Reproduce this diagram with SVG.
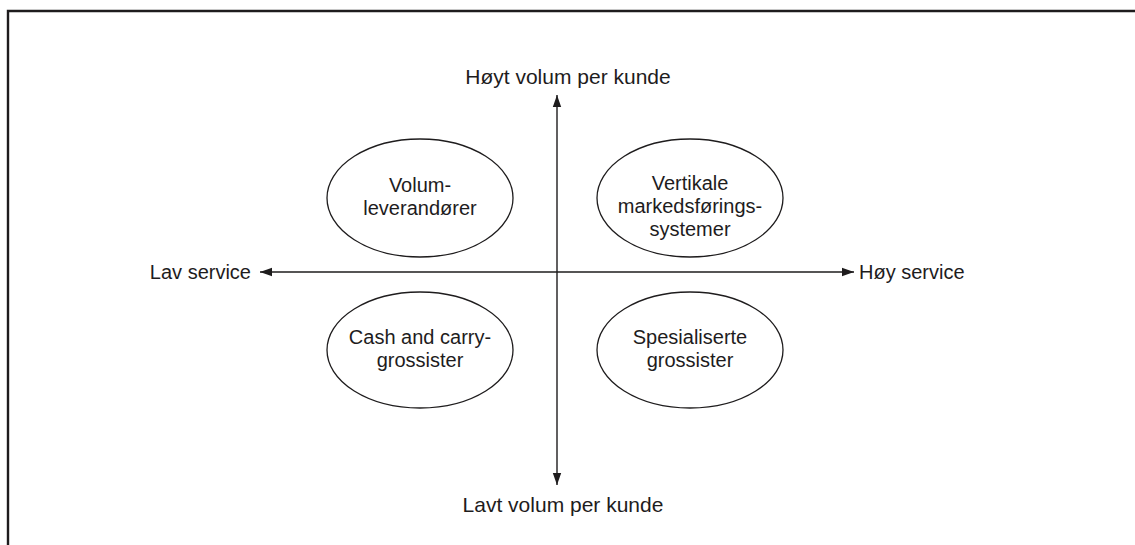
<svg xmlns="http://www.w3.org/2000/svg" width="1135" height="545" viewBox="0 0 1135 545">
  <defs>
    <style>
      .lbl { font-family: "Liberation Sans", Arial, sans-serif; font-size: 20px; fill: #1e1c1d; }
      .wide { font-size: 21px; }
      .node ellipse { fill: none; stroke: #1e1c1d; stroke-width: 1.3; }
      .axis { stroke: #1e1c1d; stroke-width: 1.4; fill: none; }
    </style>
    <marker id="arrow" viewBox="0 0 12 10" refX="12" refY="5" markerWidth="12" markerHeight="10" markerUnits="userSpaceOnUse" orient="auto">
      <path d="M0,0.8 L12,5 L0,9.2 Z" fill="#1e1c1d"/>
    </marker>
  </defs>
  <rect width="1135" height="545" fill="#ffffff"/>

  <!-- outer frame (runs past the right and bottom edges) -->
  <path d="M8,560 L8,11 L1150,11" fill="none" stroke="#1e1c1d" stroke-width="2.4"/>

  <!-- axes -->
  <g id="connectors">
    <line class="axis" x1="557" y1="272" x2="557" y2="95" marker-end="url(#arrow)"/>
    <line class="axis" x1="557" y1="272" x2="557" y2="485" marker-end="url(#arrow)"/>
    <line class="axis" x1="557" y1="272" x2="260" y2="272" marker-end="url(#arrow)"/>
    <line class="axis" x1="557" y1="272" x2="854" y2="272" marker-end="url(#arrow)"/>
  </g>

  <!-- axis labels -->
  <g id="label-top"><text class="lbl wide" x="568" y="84" text-anchor="middle">Høyt volum per kunde</text></g>
  <g id="label-bottom"><text class="lbl wide" x="563" y="512" text-anchor="middle">Lavt volum per kunde</text></g>
  <g id="label-left"><text class="lbl" x="251" y="279" text-anchor="end">Lav service</text></g>
  <g id="label-right"><text class="lbl" x="859" y="279">Høy service</text></g>

  <!-- quadrant nodes; multi-line labels as one text with line tspans -->
  <g id="node-volum" class="node">
    <ellipse cx="420" cy="198" rx="93" ry="59"/>
    <text class="lbl" text-anchor="middle"><tspan x="420" y="192">Volum-</tspan><tspan x="420" y="215">leverandører</tspan></text>
  </g>
  <g id="node-vertikale" class="node">
    <ellipse cx="690" cy="198" rx="93" ry="59"/>
    <text class="lbl" text-anchor="middle"><tspan x="690" y="190">Vertikale</tspan><tspan x="690" y="213">markedsførings-</tspan><tspan x="690" y="236">systemer</tspan></text>
  </g>
  <g id="node-cash" class="node">
    <ellipse cx="420" cy="350" rx="93" ry="58"/>
    <text class="lbl" text-anchor="middle"><tspan x="420" y="344">Cash and carry-</tspan><tspan x="420" y="367">grossister</tspan></text>
  </g>
  <g id="node-spesialiserte" class="node">
    <ellipse cx="690" cy="350" rx="93" ry="58"/>
    <text class="lbl" text-anchor="middle"><tspan x="690" y="344">Spesialiserte</tspan><tspan x="690" y="367">grossister</tspan></text>
  </g>
</svg>
